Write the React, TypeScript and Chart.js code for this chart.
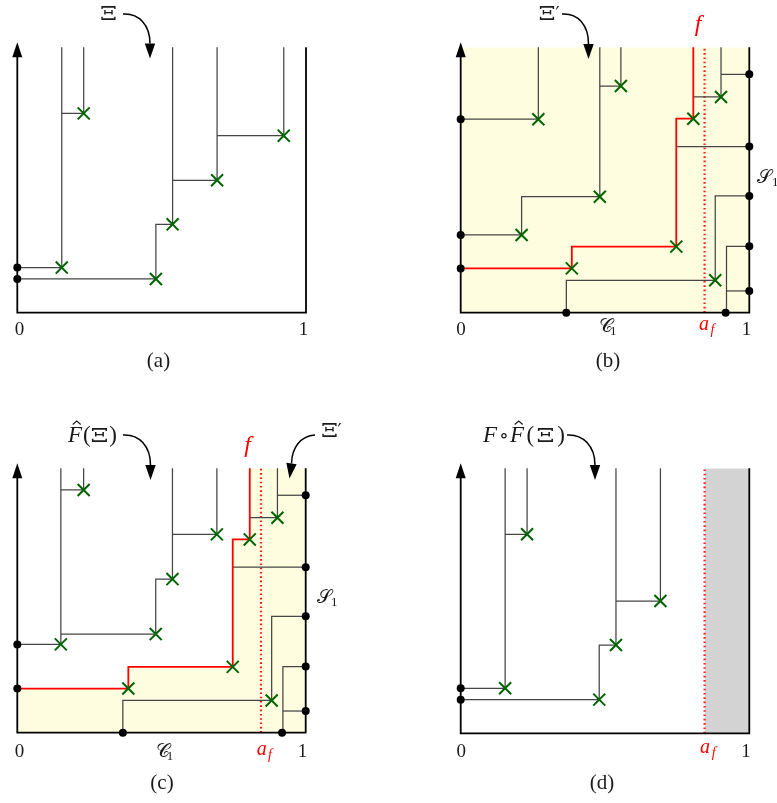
import React, { useEffect, useRef } from "react";
import { Chart, registerables } from "chart.js";
Chart.register(...registerables);

type P = [number, number];

// ---------- data (unit square coordinates) ----------
// Ξ : panels (a) and (d)
const XI_PATHS: P[][] = [
  [[0, 0.170], [0.154, 0.170], [0.154, 1]],
  [[0.154, 0.751], [0.230, 0.751], [0.230, 1]],
  [[0, 0.127], [0.480, 0.127], [0.480, 0.333], [0.538, 0.333], [0.538, 1]],
  [[0.538, 0.499], [0.692, 0.499], [0.692, 1]],
];
const XI_CROSSES: P[] = [[0.154, 0.170], [0.230, 0.751], [0.480, 0.127], [0.538, 0.333], [0.692, 0.499]];
const XI_DOTS: P[] = [[0, 0.170], [0, 0.127]];
const XI_LAST_PATH: P[] = [[0.692, 0.667], [0.923, 0.667], [0.923, 1]];
const XI_LAST_CROSS: P[] = [[0.923, 0.667]];

// Ξ' : left part of panel (b)
const XIP_PATHS: P[][] = [
  [[0, 0.729], [0.269, 0.729], [0.269, 1]],
  [[0, 0.293], [0.211, 0.293], [0.211, 0.437], [0.482, 0.437], [0.482, 1]],
  [[0.482, 0.854], [0.555, 0.854], [0.555, 1]],
];
const XIP_CROSSES: P[] = [[0.269, 0.729], [0.482, 0.437], [0.555, 0.854], [0.211, 0.293]];
const XIP_DOTS: P[] = [[0, 0.729], [0, 0.293]];

// F̂(Ξ) : left part of panel (c)
const FHAT_PATHS: P[][] = [
  [[0, 0.334], [0.151, 0.334], [0.151, 1]],
  [[0.151, 0.918], [0.230, 0.918], [0.230, 1]],
  [[0.151, 0.373], [0.480, 0.373], [0.480, 0.581], [0.538, 0.581], [0.538, 1]],
  [[0.538, 0.750], [0.692, 0.750], [0.692, 1]],
];
const FHAT_CROSSES: P[] = [[0.151, 0.334], [0.230, 0.918], [0.480, 0.373], [0.538, 0.581], [0.692, 0.750]];
const FHAT_DOTS: P[] = [[0, 0.334]];

// path f (red) shared by (b) and (c)
const F_PATH: P[] = [[0, 0.167], [0.385, 0.167], [0.385, 0.249], [0.747, 0.249], [0.747, 0.731], [0.806, 0.731], [0.806, 1]];
const F_CROSSES: P[] = [[0.385, 0.167], [0.747, 0.249], [0.806, 0.731]];
const F_DOTS: P[] = [[0, 0.167]];

// right / bottom part (S1, C1) shared by (b) and (c)
const S_PATHS: P[][] = [
  [[0.806, 0.813], [0.902, 0.813], [0.902, 1]],
  [[0.902, 0.898], [1, 0.898]],
  [[0.747, 0.626], [1, 0.626]],
  [[0.366, 0], [0.366, 0.122], [0.882, 0.122], [0.882, 0.440], [1, 0.440]],
  [[0.921, 0], [0.921, 0.250], [1, 0.250]],
  [[0.921, 0.082], [1, 0.082]],
];
const S_CROSSES: P[] = [[0.902, 0.813], [0.882, 0.122]];
const S_DOTS: P[] = [[1, 0.898], [1, 0.626], [1, 0.440], [1, 0.250], [1, 0.082], [0.366, 0], [0.918, 0]];

const A_F = 0.845;
const FRAME: P[] = [[0, 1], [0, 0], [1, 0], [1, 1]];
const FULL_TOP: P[] = [[0, 1], [1, 1]];
const GRAY_TOP: P[] = [[A_F, 1], [1, 1]];
const AF_LINE: P[] = [[A_F, 0], [A_F, 1]];

// ---------- styles ----------
const FONT = "'Liberation Serif', 'DejaVu Serif', serif";
const GREEK = "'DejaVu Serif', 'Liberation Serif', serif";
const GRAY = "#454545";
const GREEN = "#006400";
const RED = "#ff0000";
const YELLOW = "#fffddf";
const TXT = "#1a1a1a";

const pts = (a: P[]) => a.map(([x, y]) => ({ x, y }));

function line(a: P[], color: string, width: number, order: number, extra: any = {}) {
  return {
    data: pts(a), showLine: true, borderColor: color, borderWidth: width,
    pointRadius: 0, fill: false, clip: false, order, tension: 0,
    borderJoinStyle: "miter", ...extra,
  };
}
function crosses(a: P[]) {
  return {
    data: pts(a), showLine: false, pointStyle: "crossRot", pointRadius: 8.5,
    pointBorderWidth: 2, pointBorderColor: GREEN, borderColor: GREEN, clip: false, order: 1,
  };
}
function dots(a: P[]) {
  return {
    data: pts(a), showLine: false, pointStyle: "circle", pointRadius: 4,
    pointBorderWidth: 0, pointBackgroundColor: "#000", backgroundColor: "#000", borderColor: "#000", clip: false, order: 2,
  };
}
function area(a: P[], color: string) {
  return {
    data: pts(a), showLine: true, borderWidth: 0, borderColor: "rgba(0,0,0,0)", backgroundColor: color,
    fill: "origin", pointRadius: 0, clip: false, order: 20,
  };
}

type Txt = {
  t: string; x: number; y: number; size: number; italic?: boolean; color?: string;
  align?: CanvasTextAlign; hat?: boolean; fam?: string; sx?: number;
};
type Arrow = { s: P; c1: P; c2: P; e: P; tip: P };
type Spec = { box: [number, number, number, number]; datasets: any[]; texts: Txt[]; arrows: Arrow[] };

const gray = (paths: P[][]) => paths.map((p) => line(p, GRAY, 1.25, 6));
const dotted = () => line(AF_LINE, "#ff1a1a", 2.2, 8, { borderDash: [1.6, 2.7] });
const XI = (x: number, y: number, size = 19): Txt => ({ t: "Ξ", x, y, size, align: "center", fam: GREEK, sx: 1.35 });

const PANELS: Spec[] = [
  {
    box: [17.3, 47.3, 306, 312.7],
    datasets: [
      crosses([...XI_CROSSES, ...XI_LAST_CROSS]),
      dots(XI_DOTS),
      line(FRAME, "#000", 1.8, 4),
      ...gray([...XI_PATHS, XI_LAST_PATH]),
    ],
    texts: [
      XI(108.5, 19.5, 18),
      { t: "0", x: 19.5, y: 335, size: 19, align: "center" },
      { t: "1", x: 303.5, y: 335, size: 19, align: "center" },
      { t: "(a)", x: 158.5, y: 367, size: 21, align: "center" },
    ],
    arrows: [{ s: [123, 14], c1: [139, 13], c2: [150, 25], e: [150, 43.5], tip: [150, 58.5] }],
  },
  {
    box: [460.7, 47.3, 749.3, 312.7],
    datasets: [
      crosses([...XIP_CROSSES, ...F_CROSSES, ...S_CROSSES]),
      dots([...XIP_DOTS, ...F_DOTS, ...S_DOTS]),
      line(FRAME, "#000", 1.8, 4),
      line(F_PATH, RED, 1.8, 5),
      ...gray([...XIP_PATHS, ...S_PATHS]),
      dotted(),
      area(FULL_TOP, YELLOW),
    ],
    texts: [
      XI(547, 19.5, 18),
      { t: "′", x: 555.5, y: 19.5, size: 18, fam: GREEK },
      { t: "f", x: 698, y: 31, size: 24, italic: true, color: RED, align: "center" },
      { t: "0", x: 461, y: 335, size: 19, align: "center" },
      { t: "1", x: 746.5, y: 335, size: 19, align: "center" },
      { t: "𝒞", x: 599, y: 332, size: 19 },
      { t: "1", x: 610, y: 335, size: 13 },
      { t: "a", x: 699, y: 330, size: 20, italic: true, color: RED },
      { t: "f", x: 710.5, y: 334, size: 14, italic: true, color: RED },
      { t: "𝒮", x: 757, y: 183, size: 19 },
      { t: "1", x: 772, y: 186, size: 13 },
      { t: "(b)", x: 608, y: 367, size: 21, align: "center" },
    ],
    arrows: [{ s: [562, 14], c1: [578, 13], c2: [588.5, 25], e: [588.5, 44], tip: [588.5, 59] }],
  },
  {
    box: [17.3, 468.3, 305.7, 732.7],
    datasets: [
      crosses([...FHAT_CROSSES, ...F_CROSSES, ...S_CROSSES]),
      dots([...FHAT_DOTS, ...F_DOTS, ...S_DOTS]),
      line(FRAME, "#000", 1.8, 4),
      line(F_PATH, RED, 1.8, 5),
      ...gray([...FHAT_PATHS, ...S_PATHS]),
      dotted(),
      area([...F_PATH, [1, 1]], YELLOW),
    ],
    texts: [
      { t: "F", x: 68, y: 441.7, size: 23, italic: true, hat: true },
      { t: "(", x: 83, y: 441.7, size: 23 },
      XI(99.5, 441.7, 19),
      { t: ")", x: 117, y: 441.7, size: 23, align: "right" },
      { t: "f", x: 247.5, y: 452, size: 24, italic: true, color: RED, align: "center" },
      XI(329.5, 437, 18),
      { t: "′", x: 337.5, y: 437, size: 18, fam: GREEK },
      { t: "0", x: 19.5, y: 756.7, size: 19, align: "center" },
      { t: "1", x: 302.5, y: 756.7, size: 19, align: "center" },
      { t: "𝒞", x: 155.7, y: 757, size: 19 },
      { t: "1", x: 166.7, y: 759.5, size: 13 },
      { t: "a", x: 256.7, y: 755, size: 20, italic: true, color: RED },
      { t: "f", x: 268, y: 759, size: 14, italic: true, color: RED },
      { t: "𝒮", x: 317, y: 603, size: 19 },
      { t: "1", x: 331, y: 606, size: 13 },
      { t: "(c)", x: 162, y: 789, size: 21, align: "center" },
    ],
    arrows: [
      { s: [315, 435], c1: [300, 436], c2: [292, 448], e: [291.5, 463.5], tip: [289.5, 478.5] },
      { s: [123, 435], c1: [139, 434], c2: [150.5, 446], e: [150.5, 465], tip: [150.5, 480] },
    ],
  },
  {
    box: [460.7, 468.3, 749.3, 733.3],
    datasets: [
      crosses(XI_CROSSES),
      dots(XI_DOTS),
      line(FRAME, "#000", 1.8, 4),
      ...gray(XI_PATHS),
      dotted(),
      area(GRAY_TOP, "#d3d3d3"),
    ],
    texts: [
      { t: "F", x: 483, y: 441.7, size: 23, italic: true },
      { t: "∘", x: 504, y: 441.7, size: 20, align: "center", fam: GREEK },
      { t: "F", x: 510, y: 441.7, size: 23, italic: true, hat: true },
      { t: "(", x: 526.5, y: 441.7, size: 23 },
      XI(545.5, 441.7, 19),
      { t: ")", x: 565, y: 441.7, size: 23, align: "right" },
      { t: "0", x: 461.3, y: 756.7, size: 19, align: "center" },
      { t: "1", x: 746, y: 756.7, size: 19, align: "center" },
      { t: "a", x: 700, y: 753, size: 20, italic: true, color: RED },
      { t: "f", x: 711.7, y: 757, size: 14, italic: true, color: RED },
      { t: "(d)", x: 602, y: 789, size: 21, align: "center" },
    ],
    arrows: [{ s: [567, 435], c1: [583, 434], c2: [595, 446], e: [595, 465], tip: [595, 480] }],
  },
];

function head(ctx: CanvasRenderingContext2D, base: P, tip: P, half: number) {
  const dx = tip[0] - base[0], dy = tip[1] - base[1];
  const len = Math.hypot(dx, dy) || 1;
  const nx = -dy / len, ny = dx / len;
  ctx.beginPath();
  ctx.moveTo(tip[0], tip[1]);
  ctx.lineTo(base[0] + nx * half, base[1] + ny * half);
  ctx.lineTo(base[0] - nx * half, base[1] - ny * half);
  ctx.closePath();
  ctx.fill();
}

function decoPlugin(spec: Spec) {
  return {
    id: "deco",
    afterDraw(chart: any) {
      const ctx: CanvasRenderingContext2D = chart.ctx;
      const xs = chart.scales.x, ys = chart.scales.y;
      ctx.save();
      ctx.fillStyle = "#000";
      ctx.strokeStyle = "#000";
      // axis arrow head
      const ax = xs.getPixelForValue(0), top = ys.getPixelForValue(1);
      head(ctx, [ax, top + 10], [ax, top - 5], 5);
      // curved arrows
      for (const a of spec.arrows) {
        ctx.fillStyle = "#000";
        ctx.strokeStyle = "#000";
        ctx.lineWidth = 1.5;
        ctx.beginPath();
        ctx.moveTo(a.s[0], a.s[1]);
        ctx.bezierCurveTo(a.c1[0], a.c1[1], a.c2[0], a.c2[1], a.e[0], a.e[1]);
        ctx.stroke();
        head(ctx, a.e, a.tip, 5.2);
      }
      // texts
      for (const t of spec.texts) {
        ctx.save();
        ctx.font = `${t.italic ? "italic " : ""}${t.size}px ${t.fam || FONT}`;
        ctx.fillStyle = t.color || TXT;
        ctx.textAlign = t.align || "left";
        ctx.textBaseline = "alphabetic";
        const sx = t.sx || 1;
        ctx.translate(t.x, t.y);
        ctx.scale(sx, 1);
        ctx.fillText(t.t, 0, 0);
        ctx.restore();
        if (t.hat) {
          ctx.save();
          ctx.font = `${t.italic ? "italic " : ""}${t.size}px ${t.fam || FONT}`;
          const w = ctx.measureText(t.t).width;
          const cx = t.x + w * 0.62;
          const hy = t.y - t.size * 0.9;
          ctx.strokeStyle = TXT;
          ctx.lineWidth = 1.1;
          ctx.beginPath();
          ctx.moveTo(cx - 4, hy + 3.5);
          ctx.lineTo(cx, hy);
          ctx.lineTo(cx + 4, hy + 3.5);
          ctx.stroke();
          ctx.restore();
        }
      }
      ctx.restore();
    },
  };
}

function makeConfig(spec: Spec): any {
  const [l, t, r, b] = spec.box;
  return {
    type: "line",
    data: { datasets: spec.datasets },
    options: {
      responsive: false,
      animation: false,
      events: [],
      layout: { padding: { left: l, top: t, right: 777 - r, bottom: 803 - b } },
      scales: {
        x: { type: "linear", min: 0, max: 1, display: false },
        y: { type: "linear", min: 0, max: 1, display: false },
      },
      plugins: { legend: { display: false }, tooltip: { enabled: false } },
    },
    plugins: [decoPlugin(spec)],
  };
}

function Panel({ spec }: { spec: Spec }) {
  const ref = useRef<HTMLCanvasElement>(null);
  useEffect(() => {
    const chart = new Chart(ref.current!, makeConfig(spec));
    return () => chart.destroy();
  }, [spec]);
  return (
    <canvas
      ref={ref}
      width={777}
      height={803}
      style={{ position: "absolute", left: 0, top: 0, width: 777, height: 803 }}
    />
  );
}

export default function App() {
  return (
    <div style={{ position: "absolute", left: 0, top: 0, width: 777, height: 803, background: "#fff", overflow: "hidden" }}>
      {PANELS.map((s, i) => (
        <Panel key={i} spec={s} />
      ))}
    </div>
  );
}
